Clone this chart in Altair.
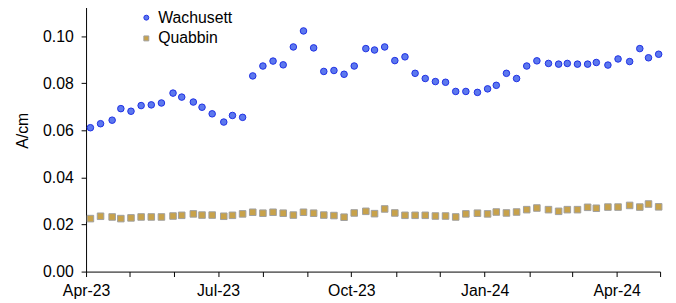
import altair as alt
import pandas as pd

dates = [
    "2023-04-04", "2023-04-11", "2023-04-19", "2023-04-25", "2023-05-02", "2023-05-09",
    "2023-05-16", "2023-05-23", "2023-05-31", "2023-06-06", "2023-06-14", "2023-06-20",
    "2023-06-27", "2023-07-05", "2023-07-11", "2023-07-18", "2023-07-25", "2023-08-01",
    "2023-08-08", "2023-08-15", "2023-08-22", "2023-08-29", "2023-09-05", "2023-09-12",
    "2023-09-19", "2023-09-26", "2023-10-03", "2023-10-11", "2023-10-17", "2023-10-24",
    "2023-10-31", "2023-11-07", "2023-11-14", "2023-11-21", "2023-11-28", "2023-12-05",
    "2023-12-12", "2023-12-19", "2023-12-27", "2024-01-03", "2024-01-09", "2024-01-16",
    "2024-01-23", "2024-01-30", "2024-02-06", "2024-02-14", "2024-02-21", "2024-02-27",
    "2024-03-05", "2024-03-12", "2024-03-18", "2024-03-26", "2024-04-02", "2024-04-10",
    "2024-04-17", "2024-04-23", "2024-04-30",
]

wachusett = [
    0.0611, 0.0628, 0.0643, 0.0692, 0.0681, 0.0705, 0.0708, 0.0716, 0.0758, 0.0741,
    0.0720, 0.0698, 0.0670, 0.0635, 0.0663, 0.0655, 0.0831, 0.0873, 0.0894, 0.0878,
    0.0954, 0.1022, 0.0950, 0.0850, 0.0854, 0.0838, 0.0873, 0.0947, 0.0941, 0.0954,
    0.0896, 0.0912, 0.0842, 0.0820, 0.0807, 0.0804, 0.0765, 0.0765, 0.0761, 0.0776,
    0.0791, 0.0842, 0.0820, 0.0873, 0.0895, 0.0884, 0.0881, 0.0884, 0.0881, 0.0881,
    0.0888, 0.0877, 0.0903, 0.0892, 0.0947, 0.0908, 0.0923,
]

quabbin = [
    0.0225, 0.0235, 0.0232, 0.0225, 0.0228, 0.0232, 0.0232, 0.0232, 0.0236, 0.0239,
    0.0245, 0.0240, 0.0240, 0.0235, 0.0239, 0.0245, 0.0252, 0.0248, 0.0252, 0.0248,
    0.0240, 0.0252, 0.0248, 0.0240, 0.0238, 0.0231, 0.0249, 0.0256, 0.0246, 0.0266,
    0.0249, 0.0239, 0.0239, 0.0239, 0.0236, 0.0236, 0.0232, 0.0245, 0.0248, 0.0245,
    0.0253, 0.0249, 0.0253, 0.0263, 0.0270, 0.0263, 0.0256, 0.0263, 0.0263, 0.0273,
    0.0269, 0.0274, 0.0274, 0.0281, 0.0274, 0.0287, 0.0275,
]

series_names = ["Wachusett", "Quabbin"]
fills = ["#5c78ee", "#c8a24a"]
strokes = ["#1e30e4", "#a0a0a0"]
shapes = ["circle", "square"]
y_ticks = [0.0, 0.02, 0.04, 0.06, 0.08, 0.10]
month_list = [(2023, m) for m in range(4, 13)] + [(2024, m) for m in range(1, 6)]

df = pd.DataFrame({
    "date": dates + dates,
    "value": wachusett + quabbin,
    "series": [series_names[0]] * len(dates) + [series_names[1]] * len(dates),
})

month_ticks = [alt.DateTime(year=y, month=m, date=1, utc=True) for y, m in month_list]
font = "Liberation Sans"


def make_legend():
    return alt.Legend(
        orient="none", legendX=53, legendY=21, symbolSize=25,
        labelFontSize=16, labelFont=font, labelColor="black",
        rowPadding=5, labelOffset=4, symbolStrokeWidth=1,
    )


chart = alt.Chart(df).mark_point(filled=True, size=44, strokeWidth=1, opacity=1).encode(
    x=alt.X(
        "date:T",
        title=None,
        scale=alt.Scale(type="utc", domain=[month_ticks[0], month_ticks[-1]], nice=False),
        axis=alt.Axis(
            values=month_ticks,
            labelExpr="utcmonth(datum.value) % 3 == 0 ? utcFormat(datum.value, '%b-%y') : ''",
            grid=False,
            tickSize=5,
            labelPadding=6,
            labelFlush=False,
            labelOverlap=False,
        ),
    ),
    y=alt.Y(
        "value:Q",
        title="A/cm",
        scale=alt.Scale(domain=[0, 0.12], nice=False, zero=True),
        axis=alt.Axis(
            values=y_ticks,
            format=".2f",
            grid=False,
            tickSize=5,
            labelPadding=8,
            titlePadding=12,
        ),
    ),
    color=alt.Color(
        "series:N",
        scale=alt.Scale(domain=series_names, range=fills),
        title=None,
        legend=make_legend(),
    ),
    stroke=alt.Stroke(
        "series:N",
        scale=alt.Scale(domain=series_names, range=strokes),
        title=None,
        legend=make_legend(),
    ),
    shape=alt.Shape(
        "series:N",
        scale=alt.Scale(domain=series_names, range=shapes),
        title=None,
        legend=make_legend(),
    ),
).properties(
    width=581,
    height=286,
    autosize="none",
    padding={"left": 79, "top": -21, "right": 8, "bottom": 30},
).configure_view(
    strokeWidth=0
).configure_axis(
    labelFont=font,
    labelFontSize=16,
    labelColor="black",
    titleFont=font,
    titleFontSize=16,
    titleFontWeight="normal",
    titleColor="black",
    domainColor="black",
    tickColor="black",
    domainWidth=1,
    tickWidth=1,
)

chart.save("out.html", embed_options={"renderer": "svg", "actions": False})
